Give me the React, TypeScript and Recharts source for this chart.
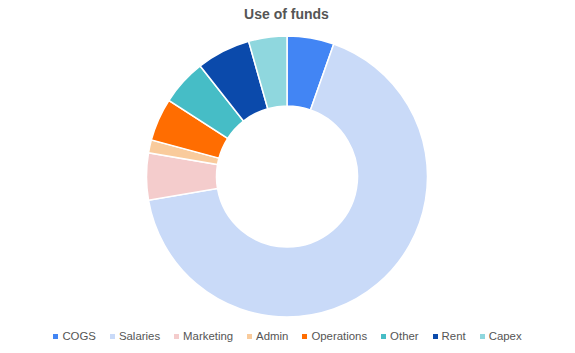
import React from "react";
import { PieChart, Pie, Cell, Legend } from "recharts";

const categories = ["COGS", "Salaries", "Marketing", "Admin", "Operations", "Other", "Rent", "Capex"];
const values = [5.4, 66.9, 5.4, 1.5, 4.9, 5.3, 6.2, 4.4];
const colors = ["#4285f4", "#c9daf8", "#f4cccc", "#f9cb9c", "#ff6d01", "#46bdc6", "#0b4aab", "#8fd7de"];

const data = categories.map((name, i) => ({ name, value: values[i] }));

const renderLegend = () => (
  <div
    style={{
      display: "flex",
      justifyContent: "center",
      alignItems: "center",
      fontFamily: "Liberation Sans, Arial, sans-serif",
      fontSize: 11.4,
      lineHeight: "14px",
      color: "#555555",
    }}
  >
    {categories.map((c, i) => (
      <div key={c} style={{ display: "flex", alignItems: "center", marginRight: i < categories.length - 1 ? 14 : 0 }}>
        <span style={{ display: "inline-block", width: 5, height: 5, background: colors[i], marginRight: 4 }} />
        <span>{c}</span>
      </div>
    ))}
  </div>
);

export default function App() {
  return (
    <div style={{ position: "absolute", left: 0, top: 0, width: 575, height: 353, background: "#fff" }}>
      <div
        style={{
          position: "absolute",
          left: 0,
          top: 6,
          width: 575,
          textAlign: "center",
          fontFamily: "Liberation Sans, Arial, sans-serif",
          fontWeight: "bold",
          fontSize: 14,
          color: "#555555",
        }}
      >
        <span style={{ position: "relative", left: -1 }}>Use of funds</span>
      </div>
      <PieChart width={575} height={353} margin={{ top: 0, right: 0, bottom: 0, left: 0 }}>
        <Pie
          data={data}
          dataKey="value"
          nameKey="name"
          cx={287}
          cy={176.5}
          innerRadius={70.5}
          outerRadius={140.5}
          startAngle={90}
          endAngle={-270}
          stroke="#ffffff"
          strokeWidth={1.5}
          isAnimationActive={false}
        >
          {data.map((d, i) => (
            <Cell key={d.name} fill={colors[i]} />
          ))}
        </Pie>
        <Legend
          verticalAlign="bottom"
          content={renderLegend}
          wrapperStyle={{ position: "absolute", left: 0, top: 329, width: 575, height: 14 }}
        />
      </PieChart>
    </div>
  );
}
